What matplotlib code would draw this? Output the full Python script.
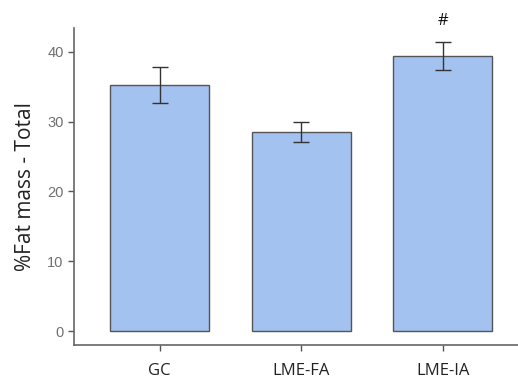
import matplotlib.pyplot as plt
import numpy as np

groups = ['GC', 'LME-FA', 'LME-IA']
fat_mass = [35.2, 28.5, 39.4]
sem = [2.6, 1.45, 2.0]
marks = ['', '', '#']

fig = plt.figure(figsize=(5.18, 3.8), dpi=100)
ax = fig.add_axes([0.1429, 0.0921, 0.8571, 0.834])

x = np.arange(len(groups))
ax.bar(x, fat_mass, width=0.7, color='#a4c2f0', edgecolor='#555555', linewidth=1.0, zorder=2)
ax.errorbar(x, fat_mass, yerr=sem, fmt='none', ecolor='#333333', elinewidth=1.0, capsize=6, capthick=1.0, zorder=3)

for xi, v, e, m in zip(x, fat_mass, sem, marks):
    if m:
        ax.text(xi, v + e + 3.0, m, ha='center', va='center', fontsize=12, family='Open Sans', color='#111111')

ax.set_xlim(-0.604, 2.533)
ax.set_ylim(-2.0, 43.4)
ax.set_yticks([0, 10, 20, 30, 40])
ax.set_yticklabels(['0', '10', '20', '30', '40'], family='Liberation Sans')
ax.set_xticks(x)
ax.set_xticklabels(groups, family='Open Sans', fontsize=12, color='#222222')
ax.tick_params(axis='x', length=4, width=1, color='#555555', pad=9)
ax.tick_params(axis='y', length=4, width=1, color='#555555', labelsize=10.5, labelcolor='#707070')
for s in ['top', 'right']:
    ax.spines[s].set_visible(False)
for s in ['left', 'bottom']:
    ax.spines[s].set_color('#666666')
    ax.spines[s].set_linewidth(1.2)

ax.set_ylabel('%Fat mass - Total', family='Open Sans', fontsize=15, color='#222222', labelpad=8)

fig.savefig('out.png', dpi=100)
